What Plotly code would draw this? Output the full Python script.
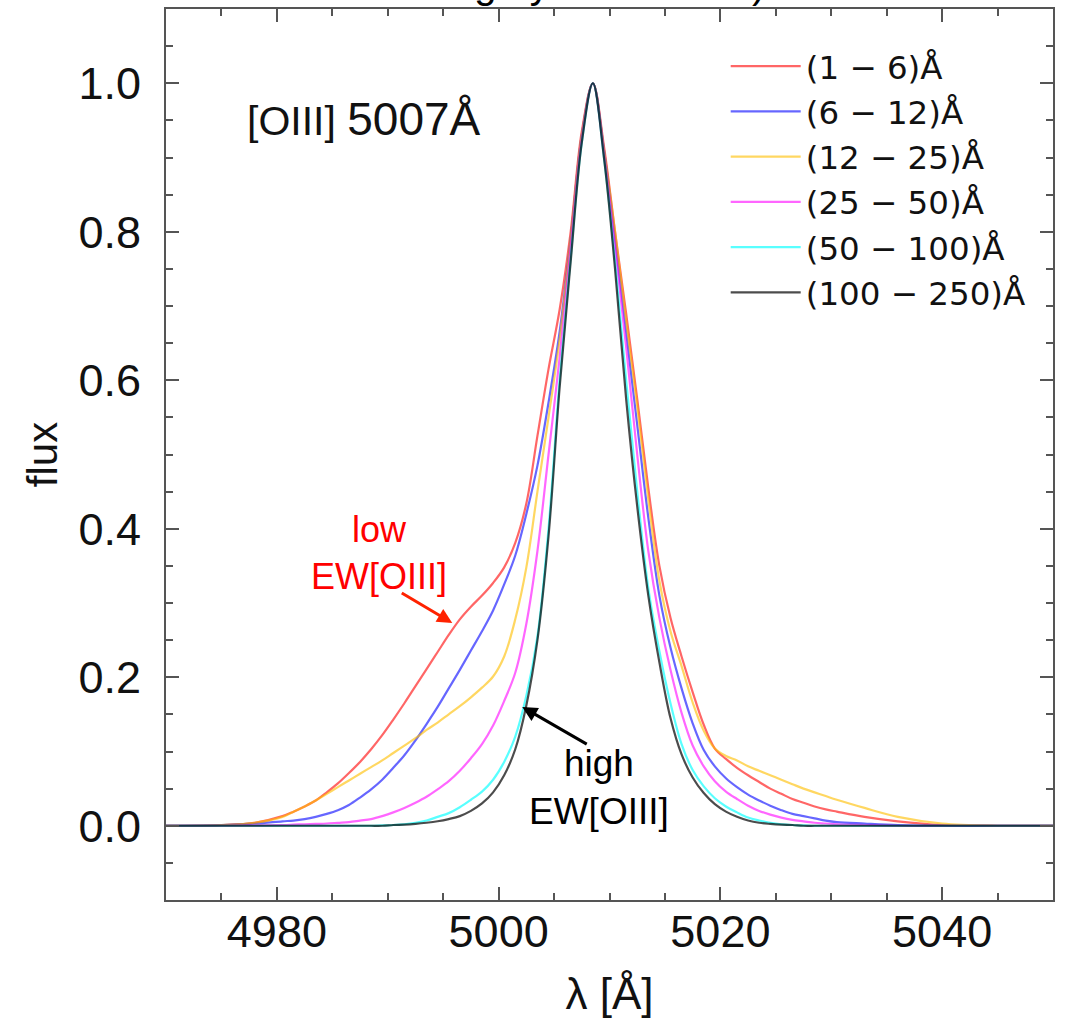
import plotly.graph_objects as go

wavelength = [4970, 4975, 4978,
              4980.5, 4981.5, 4982.5, 4983.5, 4984.5, 4985.5, 4986.5, 4987.5, 4988.5, 4989.5,
              4990.5, 4991.5, 4992.5, 4993.5, 4994.5, 4995.5, 4996.5, 4997.5, 4998.5, 4999.5,
              5000.5, 5001.5, 5002.5, 5003.5, 5004.5, 5005.5, 5006.5, 5007.5, 5008.5, 5009.5,
              5010.5, 5011.5, 5012.5, 5013.5, 5014.5, 5015.5, 5016.5, 5017.5, 5018.5, 5019.5,
              5020.5, 5021.5, 5022.5, 5023.5, 5024.5, 5025.5, 5026.5, 5027.5, 5028.5, 5029.5,
              5030.5, 5033, 5036, 5040, 5045, 5050]

flux_1_6 = [0, 0.001, 0.004,
            0.013, 0.019, 0.026, 0.034, 0.045, 0.057, 0.071, 0.086, 0.103, 0.122,
            0.143, 0.165, 0.188, 0.211, 0.234, 0.257, 0.278, 0.295, 0.310, 0.327,
            0.348, 0.381, 0.434, 0.525, 0.615, 0.695, 0.80, 0.935, 1.0, 0.915,
            0.80, 0.69, 0.575, 0.455, 0.35, 0.28, 0.228, 0.18, 0.136, 0.104,
            0.090, 0.078, 0.068, 0.059, 0.050, 0.043, 0.036, 0.031, 0.026, 0.022,
            0.019, 0.012, 0.006, 0.001, 0, 0]

flux_6_12 = [0, 0.001, 0.003,
             0.006, 0.007, 0.009, 0.012, 0.016, 0.021, 0.028, 0.038, 0.049, 0.062,
             0.078, 0.095, 0.115, 0.137, 0.160, 0.185, 0.210, 0.236, 0.262, 0.290,
             0.325, 0.364, 0.42, 0.485, 0.57, 0.665, 0.79, 0.93, 1.0, 0.91,
             0.79, 0.665, 0.54, 0.415, 0.31, 0.24, 0.185, 0.138, 0.102, 0.080,
             0.064, 0.052, 0.042, 0.034, 0.027, 0.021, 0.016, 0.013, 0.010, 0.007,
             0.005, 0.003, 0.001, 0, 0, 0]

flux_12_25 = [0, 0.001, 0.004,
              0.012, 0.019, 0.026, 0.034, 0.043, 0.052, 0.061, 0.070, 0.079, 0.088,
              0.098, 0.108, 0.118, 0.129, 0.139, 0.150, 0.161, 0.173, 0.186, 0.201,
              0.228, 0.278, 0.348, 0.45, 0.55, 0.655, 0.79, 0.93, 1.0, 0.91,
              0.80, 0.68, 0.565, 0.44, 0.33, 0.262, 0.215, 0.166, 0.128, 0.104,
              0.094, 0.088, 0.080, 0.074, 0.068, 0.062, 0.056, 0.050, 0.045, 0.040,
              0.035, 0.024, 0.012, 0.003, 0, 0]

flux_25_50 = [0, 0, 0.0005,
              0.001, 0.0015, 0.002, 0.0025, 0.003, 0.004, 0.005, 0.007, 0.009, 0.013,
              0.018, 0.024, 0.031, 0.039, 0.049, 0.060, 0.074, 0.091, 0.110, 0.135,
              0.168, 0.206, 0.272, 0.37, 0.50, 0.63, 0.78, 0.925, 1.0, 0.905,
              0.78, 0.645, 0.50, 0.37, 0.28, 0.21, 0.152, 0.108, 0.080, 0.060,
              0.046, 0.036, 0.027, 0.020, 0.015, 0.011, 0.008, 0.006, 0.004, 0.003,
              0.002, 0.001, 0, 0, 0, 0]

flux_50_100 = [0, 0, 0,
               0, 0, 0, 0, 0, 0, 0, 0, 0, 0.0005,
               0.001, 0.002, 0.004, 0.007, 0.012, 0.017, 0.025, 0.035, 0.046, 0.062,
               0.086, 0.120, 0.175, 0.255, 0.40, 0.60, 0.765, 0.92, 1.0, 0.90,
               0.76, 0.60, 0.45, 0.32, 0.235, 0.165, 0.11, 0.075, 0.053, 0.037,
               0.026, 0.018, 0.011, 0.007, 0.004, 0.002, 0.001, 0.0005, 0, 0,
               0, 0, 0, 0, 0, 0]

flux_100_250 = [0, 0, 0,
                0, 0, 0, 0, 0, 0, 0, 0, 0, 0,
                0.001, 0.0015, 0.0025, 0.004, 0.006, 0.009, 0.013, 0.020, 0.030, 0.045,
                0.068, 0.103, 0.162, 0.25, 0.39, 0.59, 0.76, 0.92, 1.0, 0.90,
                0.75, 0.575, 0.43, 0.31, 0.22, 0.145, 0.096, 0.065, 0.044, 0.029,
                0.019, 0.012, 0.007, 0.004, 0.0025, 0.0015, 0.001, 0, 0, 0,
                0, 0, 0, 0, 0, 0]

series_names = ["(1 − 6)Å", "(6 − 12)Å", "(12 − 25)Å", "(25 − 50)Å", "(50 − 100)Å", "(100 − 250)Å"]
series_values = [flux_1_6, flux_6_12, flux_12_25, flux_25_50, flux_50_100, flux_100_250]
series_colors = ["rgba(255,0,0,0.6)", "rgba(0,0,255,0.6)", "rgba(255,190,0,0.62)",
                 "rgba(255,0,255,0.6)", "rgba(0,255,255,0.65)", "rgba(0,0,0,0.7)"]

FONT = "Liberation Sans, Arial, Helvetica, sans-serif"

fig = go.Figure()
for name, vals, col in zip(series_names, series_values, series_colors):
    fig.add_trace(go.Scatter(x=wavelength, y=vals, name=name, mode="lines",
                             line=dict(color=col, width=2.2, shape="spline", smoothing=1.0)))

axis_common = dict(showline=True, linecolor="#555", linewidth=2, mirror="allticks",
                   ticks="inside", tickcolor="#555", tickwidth=2, ticklen=13,
                   showgrid=False, zeroline=False, automargin=False,
                   tickfont=dict(family=FONT, size=45, color="#111"))

fig.update_xaxes(range=[4970, 5050], dtick=20, tick0=4980,
                 minor=dict(dtick=5, ticklen=7, ticks="inside", tickcolor="#555", tickwidth=2, showgrid=False),
                 title=dict(text="λ [Å]", font=dict(family=FONT, size=44, color="#111"), standoff=22),
                 ticklabelstandoff=-9, **axis_common)
fig.update_yaxes(range=[-0.1, 1.1], dtick=0.2, tick0=0, tickformat=".1f",
                 minor=dict(dtick=0.05, ticklen=7, ticks="inside", tickcolor="#555", tickwidth=2, showgrid=False),
                 title=dict(text="flux", font=dict(family=FONT, size=42, color="#111"), standoff=8),
                 ticklabelstandoff=14, **axis_common)

fig.add_annotation(x=4977.15, y=0.952, xref="x", yref="y",
                   text="[OIII] <span style='font-size:46px'>5007Å</span>", showarrow=False,
                   xanchor="left", yanchor="middle", font=dict(family=FONT, size=41, color="#111"))

fig.add_annotation(x=4995.82, y=0.273, xref="x", yref="y", ax=-52, ay=-31, text="",
                   showarrow=True, arrowhead=2, arrowsize=1, arrowwidth=3, arrowcolor="#ff2200")
fig.add_annotation(x=4989.23, y=0.368, xref="x", yref="y", text="low<br>EW[OIII]", showarrow=False,
                   font=dict(family=FONT, size=36, color="#ff0000"))

fig.add_annotation(x=5002.13, y=0.160, xref="x", yref="y", ax=66, ay=38, text="",
                   showarrow=True, arrowhead=2, arrowsize=1, arrowwidth=3, arrowcolor="#000")
fig.add_annotation(x=5009.08, y=0.051, xref="x", yref="y", text="high<br>EW[OIII]", showarrow=False,
                   font=dict(family=FONT, size=37, color="#000"))

# title line that is mostly clipped by the top of the page, as in the reference
fig.add_annotation(x=(341 - 166) / 887, y=1.0, xref="paper", yref="paper", text="Stacking by EW in bins)",
                   showarrow=False, xanchor="left", yanchor="bottom", yshift=1,
                   font=dict(family=FONT, size=40, color="#000"))

fig.update_layout(
    width=1067, height=1023,
    margin=dict(l=166, r=14, t=9, b=123),
    paper_bgcolor="white", plot_bgcolor="white",
    showlegend=True,
    legend=dict(x=0.631, y=0.967, xanchor="left", yanchor="top", bgcolor="rgba(0,0,0,0)",
                itemwidth=70, font=dict(family="DejaVu Sans", size=32.5, color="#111"),
                tracegroupgap=0),
)

fig.write_html("out.html")
